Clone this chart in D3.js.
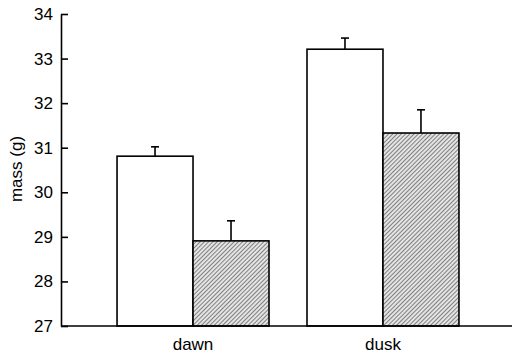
<!DOCTYPE html>
<html>
<head>
<meta charset="utf-8">
<script src="https://cdn.jsdelivr.net/npm/d3@7"></script>
<style>
  body { margin: 0; background: #fff; }
  svg { display: block; }
  text { font-family: "Liberation Sans", Arial, sans-serif; fill: #000; }
</style>
</head>
<body>
<div id="chart"></div>
<script>
// data
const periods = ['dawn', 'dusk'];
const groups = ['open', 'hatched'];
const openMass = [30.81, 33.21];
const openErr = [0.21, 0.25];
const hatchedMass = [28.91, 31.33];
const hatchedErr = [0.45, 0.52];
const yTicks = [27, 28, 29, 30, 31, 32, 33, 34];

const width = 513, height = 357;
const margin = {top: 14, right: 1, bottom: 31, left: 61};

const rows = [];
periods.forEach((p, i) => {
  rows.push({period: p, group: 'open', mass: openMass[i], err: openErr[i]});
  rows.push({period: p, group: 'hatched', mass: hatchedMass[i], err: hatchedErr[i]});
});

const svg = d3.select('#chart').append('svg')
  .attr('width', width)
  .attr('height', height);

const defs = svg.append('defs');
const pat = defs.append('pattern')
  .attr('id', 'hatch')
  .attr('patternUnits', 'userSpaceOnUse')
  .attr('width', 3)
  .attr('height', 3)
  .attr('patternTransform', 'rotate(45)');
pat.append('rect').attr('width', 3).attr('height', 3).attr('fill', '#e4e4e4');
pat.append('line')
  .attr('x1', 0).attr('y1', 0).attr('x2', 0).attr('y2', 3)
  .attr('stroke', '#4a4a4a').attr('stroke-width', 1.3);

const x = d3.scaleBand()
  .domain(periods)
  .range([margin.left, 515])
  .paddingInner(0.2)
  .paddingOuter(0.295);

const xs = d3.scaleBand()
  .domain(groups)
  .range([0, x.bandwidth()])
  .padding(0);

const y = d3.scaleLinear()
  .domain([27, 34])
  .range([height - margin.bottom, margin.top]);

const g = svg.append('g');

// bars
g.selectAll('rect.bar')
  .data(rows)
  .join('rect')
  .attr('class', 'bar')
  .attr('x', d => x(d.period) + xs(d.group))
  .attr('y', d => y(d.mass))
  .attr('width', xs.bandwidth())
  .attr('height', d => y(27) - y(d.mass))
  .attr('fill', d => d.group === 'open' ? '#fff' : 'url(#hatch)')
  .attr('stroke', '#000')
  .attr('stroke-width', 1.6);

// error bars (upper only)
const eb = g.selectAll('g.err')
  .data(rows)
  .join('g')
  .attr('class', 'err')
  .attr('transform', d => `translate(${x(d.period) + xs(d.group) + xs.bandwidth() / 2},0)`);
eb.append('line')
  .attr('y1', d => y(d.mass))
  .attr('y2', d => y(d.mass + d.err))
  .attr('stroke', '#000').attr('stroke-width', 1.6);
eb.append('line')
  .attr('x1', -4).attr('x2', 4)
  .attr('y1', d => y(d.mass + d.err))
  .attr('y2', d => y(d.mass + d.err))
  .attr('stroke', '#000').attr('stroke-width', 1.6);

// y axis, ticks pointing inward
const yAxis = svg.append('g')
  .attr('transform', `translate(${margin.left},0)`)
  .call(d3.axisRight(y).tickValues(yTicks).tickSize(7).tickSizeOuter(0).tickFormat(d3.format('d')));
yAxis.select('.domain').attr('stroke-width', 1.6);
yAxis.selectAll('.tick line').attr('stroke-width', 1.6);
yAxis.selectAll('.tick text')
  .attr('x', -8)
  .attr('text-anchor', 'end')
  .style('font-size', '17px');

// x axis baseline
svg.append('line')
  .attr('x1', margin.left).attr('x2', width - margin.right)
  .attr('y1', y(27)).attr('y2', y(27))
  .attr('stroke', '#000').attr('stroke-width', 1.6);

// category labels
svg.selectAll('text.cat')
  .data(periods)
  .join('text')
  .attr('class', 'cat')
  .attr('x', d => x(d) + x.bandwidth() / 2)
  .attr('y', height - 7)
  .attr('text-anchor', 'middle')
  .style('font-size', '17px')
  .text(d => d);

svg.append('text')
  .attr('transform', `translate(22,169) rotate(-90)`)
  .attr('text-anchor', 'middle')
  .style('font-size', '17px')
  .text('mass (g)');
</script>
</body>
</html>
